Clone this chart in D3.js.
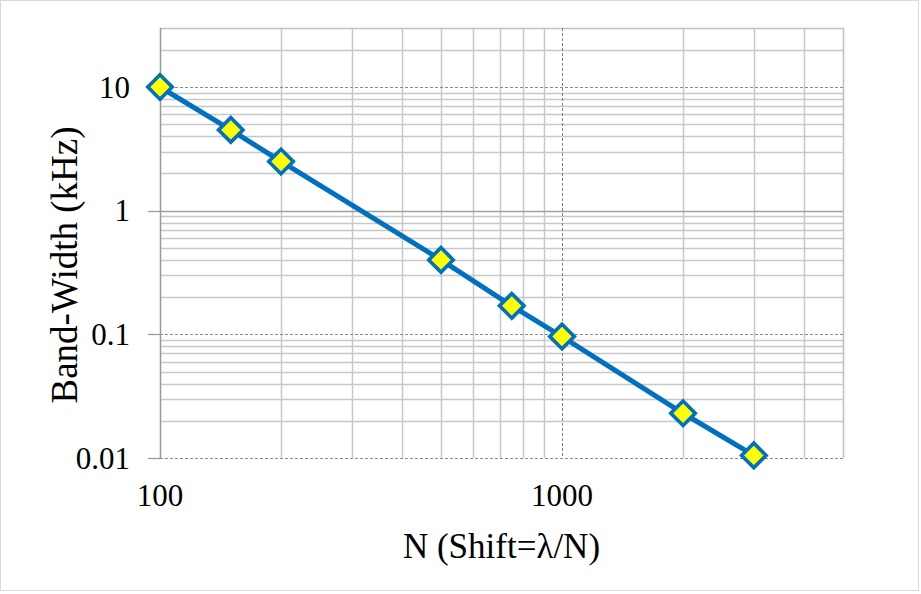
<!DOCTYPE html>
<html>
<head>
<meta charset="utf-8">
<script src="https://cdn.jsdelivr.net/npm/d3@7"></script>
<style>
  html, body { margin: 0; padding: 0; background: #fff; }
  svg { display: block; }
  text { font-family: "Liberation Serif", "Times New Roman", serif; fill: #000; }
</style>
</head>
<body>
<svg id="chart" width="921" height="594"></svg>
<script>
// ---- data ----
const nValues   = [100, 150, 200, 500, 750, 1000, 2000, 3000];
const bandwidth = [10, 4.5, 2.5, 0.4, 0.17, 0.096, 0.023, 0.0105];
const xTickValues = [100, 1000];
const xTickLabels = ["100", "1000"];
const yTickValues = [0.01, 0.1, 1, 10];
const yTickLabels = ["0.01", "0.1", "1", "10"];
const xDomain = [100, 5000];
const yDomain = [0.01, 30];
const xTitle = "N (Shift=\u03bb/N)";
const yTitle = "Band-Width (kHz)";

// ---- layout ----
const W = 921, H = 594;
const plot = { left: 160, right: 843, top: 28, bottom: 458 };

const svg = d3.select("#chart");

// chart-area border
svg.append("rect")
  .attr("x", 0.5).attr("y", 0.5).attr("width", W - 3).attr("height", H - 4)
  .attr("fill", "#fff").attr("stroke", "#d9d9d9").attr("stroke-width", 1);

const x = d3.scaleLog().domain(xDomain).range([plot.left, plot.right]);
const y = d3.scaleLog().domain(yDomain).range([plot.bottom, plot.top]);

// minor grid values derived from log scale ticks
const xMinor = x.ticks().filter(v => xTickValues.indexOf(v) < 0 && v < xDomain[1]);
const yMinor = y.ticks().filter(v => yTickValues.indexOf(v) < 0 && v < yDomain[1]);

const grid = svg.append("g");
// minor vertical
grid.selectAll("line.xminor").data(xMinor).enter().append("line")
  .attr("x1", d => Math.round(x(d)) + 0.5).attr("x2", d => Math.round(x(d)) + 0.5)
  .attr("y1", plot.top).attr("y2", plot.bottom)
  .attr("stroke", "#c8c8c8").attr("stroke-width", 1.5);
// minor horizontal
grid.selectAll("line.yminor").data(yMinor).enter().append("line")
  .attr("y1", d => Math.round(y(d)) + 0.5).attr("y2", d => Math.round(y(d)) + 0.5)
  .attr("x1", plot.left).attr("x2", plot.right)
  .attr("stroke", "#c8c8c8").attr("stroke-width", 1.5);

// plot border (top & right)
grid.append("path")
  .attr("d", `M${plot.left},${plot.top + 0.5}H${plot.right + 0.5}V${plot.bottom}`)
  .attr("fill", "none").attr("stroke", "#c0c0c0").attr("stroke-width", 1.5);

// major horizontal lines
yTickValues.forEach(v => {
  const yy = Math.round(y(v)) + 0.5;
  const solid = (v === 1);
  grid.append("line")
    .attr("x1", plot.left - 12).attr("x2", plot.left)
    .attr("y1", yy).attr("y2", yy)
    .attr("stroke", "#999").attr("stroke-width", 1.3);
  grid.append("line")
    .attr("x1", plot.left).attr("x2", plot.right)
    .attr("y1", yy).attr("y2", yy)
    .attr("stroke", solid ? "#a0a0a0" : "#8c8c8c")
    .attr("stroke-width", solid ? 1.6 : 1)
    .attr("stroke-dasharray", solid ? null : "3,2");
});
// major vertical lines (other than axis)
xTickValues.filter(v => v !== xDomain[0]).forEach(v => {
  const xx = Math.round(x(v)) + 0.5;
  grid.append("line")
    .attr("x1", xx).attr("x2", xx)
    .attr("y1", plot.top).attr("y2", plot.bottom)
    .attr("stroke", "#7f7f7f").attr("stroke-width", 1)
    .attr("stroke-dasharray", "3,2");
});
// y axis line
grid.append("line")
  .attr("x1", plot.left + 0.5).attr("x2", plot.left + 0.5)
  .attr("y1", plot.top).attr("y2", plot.bottom + 0.5)
  .attr("stroke", "#999").attr("stroke-width", 1.5);

// tick labels
svg.append("g").selectAll("text").data(yTickValues).enter().append("text")
  .attr("x", 130).attr("y", d => y(d)).attr("dy", "0.34em")
  .attr("text-anchor", "end").attr("font-size", 31)
  .text((d, i) => yTickLabels[i]);
svg.append("g").selectAll("text").data(xTickValues).enter().append("text")
  .attr("x", d => x(d)).attr("y", 506)
  .attr("text-anchor", "middle").attr("font-size", 31)
  .text((d, i) => xTickLabels[i]);

// titles
svg.append("text")
  .attr("x", (plot.left + plot.right) / 2).attr("y", 558)
  .attr("text-anchor", "middle").attr("font-size", 35)
  .text(xTitle);
svg.append("text")
  .attr("transform", "translate(77,265) rotate(-90)")
  .attr("text-anchor", "middle").attr("font-size", 37)
  .text(yTitle);

// series
const pts = nValues.map((n, i) => [n, bandwidth[i]]);
svg.append("path")
  .datum(pts)
  .attr("fill", "none").attr("stroke", "#0070C0").attr("stroke-width", 5)
  .attr("stroke-linejoin", "round")
  .attr("d", d3.line().x(d => x(d[0])).y(d => y(d[1])));

const sym = d3.symbol().type(d3.symbolSquare).size(300);
svg.append("g").selectAll("path").data(pts).enter().append("path")
  .attr("transform", d => `translate(${x(d[0])},${y(d[1])}) rotate(45)`)
  .attr("d", sym)
  .attr("fill", "#FFFF00").attr("stroke", "#0070C0").attr("stroke-width", 3.6);
</script>
</body>
</html>
